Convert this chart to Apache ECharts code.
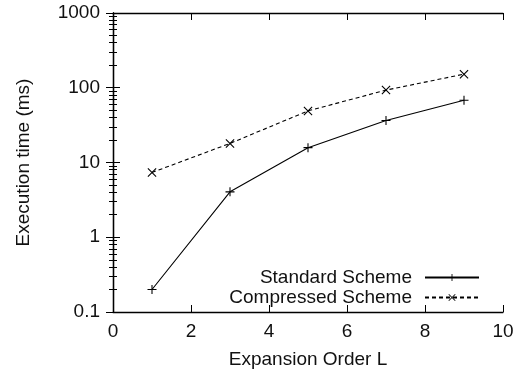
<!DOCTYPE html>
<html><head><meta charset="utf-8">
<script src="https://cdn.jsdelivr.net/npm/echarts@6/dist/echarts.min.js"></script>
<style>html,body{margin:0;padding:0;background:#fff}#c{width:523px;height:376px}</style>
</head><body><div id="c"></div>
<script>
var orders = [1, 3, 5, 7, 9];
var standard = [0.2, 4.05, 15.8, 36.5, 68];
var compressed = [7.35, 18, 49, 93, 152];
var xTicks = [0, 2, 4, 6, 8, 10];
var yTicks = [0.1, 1, 10, 100, 1000];

var FONT = '"Liberation Sans", Arial, sans-serif';
var FS = 19;
var PLUS = 'path://M-0.12,-1L0.12,-1L0.12,1L-0.12,1Z M-1,-0.12L1,-0.12L1,0.12L-1,0.12Z';
var CROSS = 'path://M-1,-0.83L-0.83,-1L1,0.83L0.83,1Z M0.83,-1L1,-0.83L-0.83,1L-1,0.83Z';

function pairs(xs, ys){ return xs.map(function(x,i){ return [x, ys[i]]; }); }
function fmtY(v){ var r = yTicks.filter(function(t){ return Math.abs(Math.log10(t) - Math.log10(v)) < 1e-6; }); return r.length ? String(r[0]) : ''; }

var chart = echarts.init(document.getElementById('c'), null, {renderer:'canvas'});
var axisLine = {show:true, lineStyle:{color:'#000', width:1.3}};
chart.setOption({
  animation:false,
  backgroundColor:'#fff',
  textStyle:{fontFamily:FONT},
  grid:{left:113, right:20, top:13, bottom:64, containLabel:false},
  xAxis:[{
    type:'value', min:xTicks[0], max:xTicks[xTicks.length-1], interval:2, position:'bottom',
    name:'Expansion Order L', nameLocation:'middle', nameGap:38,
    nameTextStyle:{color:'#111', fontSize:FS, fontFamily:FONT},
    axisLine:axisLine, axisTick:{show:true, inside:true, length:7, lineStyle:{color:'#000', width:1}},
    axisLabel:{color:'#111', fontSize:FS, fontFamily:FONT, margin:10},
    splitLine:{show:false}
  },{
    type:'value', min:xTicks[0], max:xTicks[xTicks.length-1], interval:2, position:'top',
    axisLine:axisLine, axisTick:{show:true, inside:true, length:7, lineStyle:{color:'#000', width:1}},
    axisLabel:{show:false}, splitLine:{show:false}
  }],
  yAxis:[{
    type:'log', logBase:10, min:yTicks[0], max:yTicks[yTicks.length-1], position:'left',
    name:'Execution time (ms)', nameLocation:'middle', nameGap:80, nameRotate:90,
    nameTextStyle:{color:'#111', fontSize:FS, fontFamily:FONT},
    axisLine:axisLine, axisTick:{show:true, inside:true, length:7, lineStyle:{color:'#000', width:1}},
    minorTick:{show:true, splitNumber:9, length:4, lineStyle:{color:'#000', width:1}},
    axisLabel:{color:'#111', fontSize:FS, fontFamily:FONT, margin:13, formatter:fmtY},
    splitLine:{show:false}, minorSplitLine:{show:false}
  },{
    type:'log', logBase:10, min:yTicks[0], max:yTicks[yTicks.length-1], position:'right',
    axisLine:axisLine, axisTick:{show:true, inside:true, length:7, lineStyle:{color:'#000', width:1}},
    minorTick:{show:true, splitNumber:9, length:4, lineStyle:{color:'#000', width:1}},
    axisLabel:{show:false}, splitLine:{show:false}, minorSplitLine:{show:false}
  }],
  legend:{
    orient:'vertical', right:43, bottom:69, align:'right', padding:0,
    itemWidth:54, itemHeight:9, itemGap:1,
    textStyle:{color:'#111', fontSize:FS, fontFamily:FONT, lineHeight:19, padding:[0,8,0,0]},
    data:['Standard Scheme','Compressed Scheme']
  },
  series:[{
    name:'Standard Scheme', type:'line', data:pairs(orders, standard),
    symbol:PLUS, symbolSize:9, showAllSymbol:true,
    lineStyle:{color:'#000', width:1.1, type:'solid'},
    itemStyle:{color:'#000'}
  },{
    name:'Compressed Scheme', type:'line', data:pairs(orders, compressed),
    symbol:CROSS, symbolSize:9, showAllSymbol:true,
    lineStyle:{color:'#000', width:1.1, type:[4,3]},
    itemStyle:{color:'#000'}
  }]
});
</script></body></html>
